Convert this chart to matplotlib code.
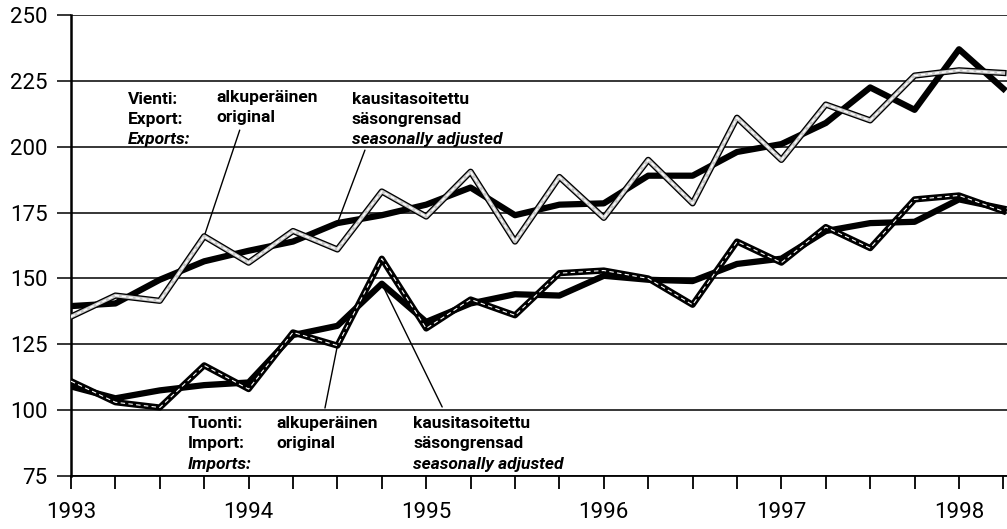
import numpy as np
import matplotlib.pyplot as plt

# quarterly values, 1993 Q1 .. 1998 Q2
quarters = [1993.0, 1993.25, 1993.5, 1993.75, 1994.0, 1994.25, 1994.5, 1994.75,
            1995.0, 1995.25, 1995.5, 1995.75, 1996.0, 1996.25, 1996.5, 1996.75,
            1997.0, 1997.25, 1997.5, 1997.75, 1998.0, 1998.25]
export_sa = [139.5, 140.5, 149.5, 156.5, 160.5, 164, 171, 174, 178, 184.5, 174,
             178, 178.5, 189, 189, 198, 201, 209, 222.5, 214, 237, 222]
export_orig = [135.5, 143.5, 141.5, 166, 156, 168, 161, 183, 173.5, 190.5, 164,
               188.5, 173, 195, 178.5, 211, 195, 216, 210, 227, 229, 228]
import_orig = [111, 103, 101, 117, 108, 129.5, 124.5, 157.5, 131, 142, 136, 152,
               153, 150, 140, 164, 156, 169.5, 161.5, 180, 181.5, 175.5]
import_sa = [109, 104.5, 107.5, 109.5, 110.5, 128.5, 132, 148, 133.5, 140.5, 144,
             143.5, 151, 149.5, 149, 155.5, 157.5, 168, 171, 171.5, 180, 176.5]

FONT = ['Roboto', 'DejaVu Sans']
plt.rcParams['font.family'] = FONT

fig = plt.figure(figsize=(10.07, 5.29), dpi=100)
ax = fig.add_axes([71 / 1007, 53 / 529, 936 / 1007, 461 / 529])
ax.set_xlim(1993, 1993 + 936 / 177.6)
ax.set_ylim(75, 250)

# horizontal grid
ax.set_yticks(range(75, 251, 25))
ax.grid(axis='y', color='black', lw=1.1)
ax.set_axisbelow(True)
for s in ['top', 'right']:
    ax.spines[s].set_visible(False)
ax.spines['left'].set_linewidth(1.8)
ax.spines['bottom'].set_linewidth(1.3)
ax.tick_params(axis='y', length=10, width=1.1, pad=7, labelsize=16)

ax.set_xticks(quarters)
ax.set_xticklabels([str(int(q)) if q == int(q) else '' for q in quarters])
ax.tick_params(axis='x', length=9.5, width=1.3, pad=9, labelsize=16)

# exports
ax.plot(quarters, export_sa, color='black', lw=4.5, zorder=3)
ax.plot(quarters, export_orig, color='black', lw=4.5, zorder=4)
ax.plot(quarters, export_orig, color='#c8c8c8', lw=2.6, zorder=5)
ax.plot(quarters, export_orig, color='white', lw=1.0, ls=(0, (3, 2)), zorder=6)

# imports
ax.plot(quarters, import_sa, color='black', lw=4.5, zorder=3)
ax.plot(quarters, import_orig, color='black', lw=4.5, zorder=4)
ax.plot(quarters, import_orig, color='white', lw=0.8, ls=(0, (4, 3)), zorder=5)


def label_block(x, base, lines, step=7.7):
    for i, (txt, italic) in enumerate(lines):
        ax.text(x, base + (len(lines) - 1 - i) * step, txt, fontsize=12.5,
                fontweight='bold', style='italic' if italic else 'normal',
                ha='left', va='baseline', family=FONT, zorder=7)


label_block(1993.321, 200.9, [('Vienti:', False), ('Export:', False), ('Exports:', True)])
label_block(1993.816, 209.3, [('alkuperäinen', False), ('original', False)])
label_block(1994.582, 200.9, [('kausitasoitettu', False), ('säsongrensad', False),
                              ('seasonally adjusted', True)])

label_block(1993.659, 77.8, [('Tuonti:', False), ('Import:', False), ('Imports:', True)])
label_block(1994.154, 85.5, [('alkuperäinen', False), ('original', False)])
label_block(1994.926, 77.8, [('kausitasoitettu', False), ('säsongrensad', False),
                             ('seasonally adjusted', True)])

# leader lines
arrow = dict(arrowstyle='-', lw=1.0, color='black', shrinkA=0, shrinkB=0)
ax.annotate('', xy=(quarters[3], export_orig[3]), xytext=(1993.95, 206.3), arrowprops=arrow)
ax.annotate('', xy=(quarters[6], export_sa[6]), xytext=(1994.655, 198.7), arrowprops=arrow)
ax.annotate('', xy=(quarters[6], import_orig[6]), xytext=(1994.43, 100.8), arrowprops=arrow)
ax.annotate('', xy=(quarters[7], import_sa[7]), xytext=(1995.09, 101.2), arrowprops=arrow)

fig.savefig('out.png', dpi=100)
